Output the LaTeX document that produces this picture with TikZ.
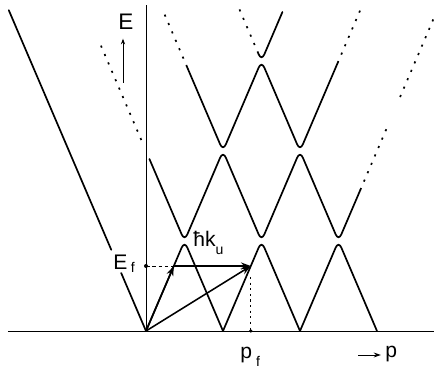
\documentclass[tikz,border=0pt]{standalone}
\usepackage{fontspec}
\setmainfont{Liberation Sans}
\usetikzlibrary{arrows.meta}
\tikzset{
  band/.style={line width=1.2pt, line cap=round, rounded corners=5pt},
  ghost/.style={line width=1.2pt, dash pattern=on 1.5pt off 5pt},
  vec/.style={line width=1.1pt, -{Stealth[length=7pt,width=5pt]}},
  lbl/.style={font=\fontsize{15}{18}\selectfont, inner sep=0pt, anchor=base west},
}
\newcommand{\lowidx}[2][2pt]{\raisebox{-#1}{\fontsize{10}{12}\selectfont #2}}

\begin{document}
\begin{tikzpicture}
% period (hbar k_u), first crossing height, slope of the free-electron lines
\def\per{1.925}
\def\hh{2.25}
\def\slope{2.338}
\def\ef{1.625}
\useasboundingbox (-3.65,-1.0) rectangle (7.2,8.275);
% axes
\draw[line width=0.7pt] (-3.45,0) -- (7.2,0);
\draw[line width=0.7pt] (0,0) -- (0,8.15);
% free-electron line to the left (gap at E_f)
\draw[band] (0,0) -- ({-1.45/\slope},1.45);
\draw[band] ({-2.03/\slope},2.03) -- ({-8.02/\slope},8.02);
% band 1
\foreach \k in {0,1,2}
  \draw[band] ({\k*\per},0) -- ({(\k+0.5)*\per},\hh) -- ({(\k+1)*\per},0);
% band 2
\draw[band] ({\per-4.3/\slope},4.3) -- ({0.5*\per},\hh) -- (\per,{2*\hh})
  -- ({1.5*\per},\hh) -- ({2*\per},{2*\hh}) -- ({2.5*\per},\hh)
  -- ({2*\per+3.525/\slope},3.525);
% band 3
\draw[band] ({2*\per-6.6/\slope},6.6) -- (\per,{2*\hh}) -- ({1.5*\per},{3*\hh})
  -- ({2*\per},{2*\hh}) -- ({\per+6.7/\slope},6.7);
% band 4
\draw[band] ({1.5*\per-0.08},{3*\hh+0.19}) -- ({1.5*\per},{3*\hh}) -- ({7.975/\slope},7.975);
% dotted continuations
\draw[ghost] ({1.5*\per-0.08},{3*\hh+0.19}) -- ({3*\per-8.075/\slope},8.075);
\draw[ghost] ({\per-4.775/\slope},4.775) -- ({\per-7.15/\slope},7.15);
\draw[ghost] ({2*\per-6.6/\slope},6.6) -- ({2*\per-7.925/\slope},7.925);
\draw[ghost] ({\per+6.7/\slope},6.7) -- ({\per+8.05/\slope},8.05);
\draw[ghost] ({2*\per+3.525/\slope},3.525) -- ({2*\per+5.2/\slope},5.2);
\draw[ghost] ({2*\per+5.85/\slope},5.85) -- ({2*\per+7.85/\slope},7.85);
% Fermi level and the umklapp vectors
\coordinate (O) at (0,0);
\coordinate (kf) at ({\ef/\slope},\ef);
\coordinate (pf) at ({\per+\ef/\slope},\ef);
\coordinate (efax) at (0,\ef);
\coordinate (pfax) at ({\per+\ef/\slope},0);
\coordinate (pftop) at ({\per+\ef/\slope},1.35);
\draw[line width=0.6pt, dash pattern=on 2.5pt off 2pt] (efax) -- (kf);
\draw[line width=0.7pt, dash pattern=on 1.5pt off 2.5pt] (pftop) -- (pfax);
\fill (efax) circle (0.05);
\fill (pfax) circle (0.045);
\draw[vec] (O) -- (kf);
\draw[vec] (kf) -- (pf);
\draw[vec] (O) -- (pf);
% labels
\node[lbl, font=\fontsize{16}{19}\selectfont] (lblE) at (-0.7,7.525) {E};
\coordinate (ebot) at (-0.575,6.2);
\draw[line width=0.7pt, -{Stealth[length=4pt,width=3pt]}, shorten >=6pt] (ebot) -- (ebot |- lblE.south);
\node[lbl] (lblEf) at (-0.825,1.525) {E\hspace{2.5pt}\lowidx{f}};
\node[lbl] (lblhk) at (1.175,2.1) {ħk\lowidx[5pt]{u}};
\node[lbl] (lblpf) at (2.35,-0.7) {p\hspace{3pt}\lowidx[5pt]{f}};
\node[lbl] (lblp) at (5.975,-0.675) {p};
\coordinate (pstart) at (5.3,-0.6);
\draw[line width=0.7pt, -{Stealth[length=5pt,width=3.5pt]}, shorten >=3pt] (pstart) -- (pstart -| lblp.west);
\end{tikzpicture}
\end{document}
